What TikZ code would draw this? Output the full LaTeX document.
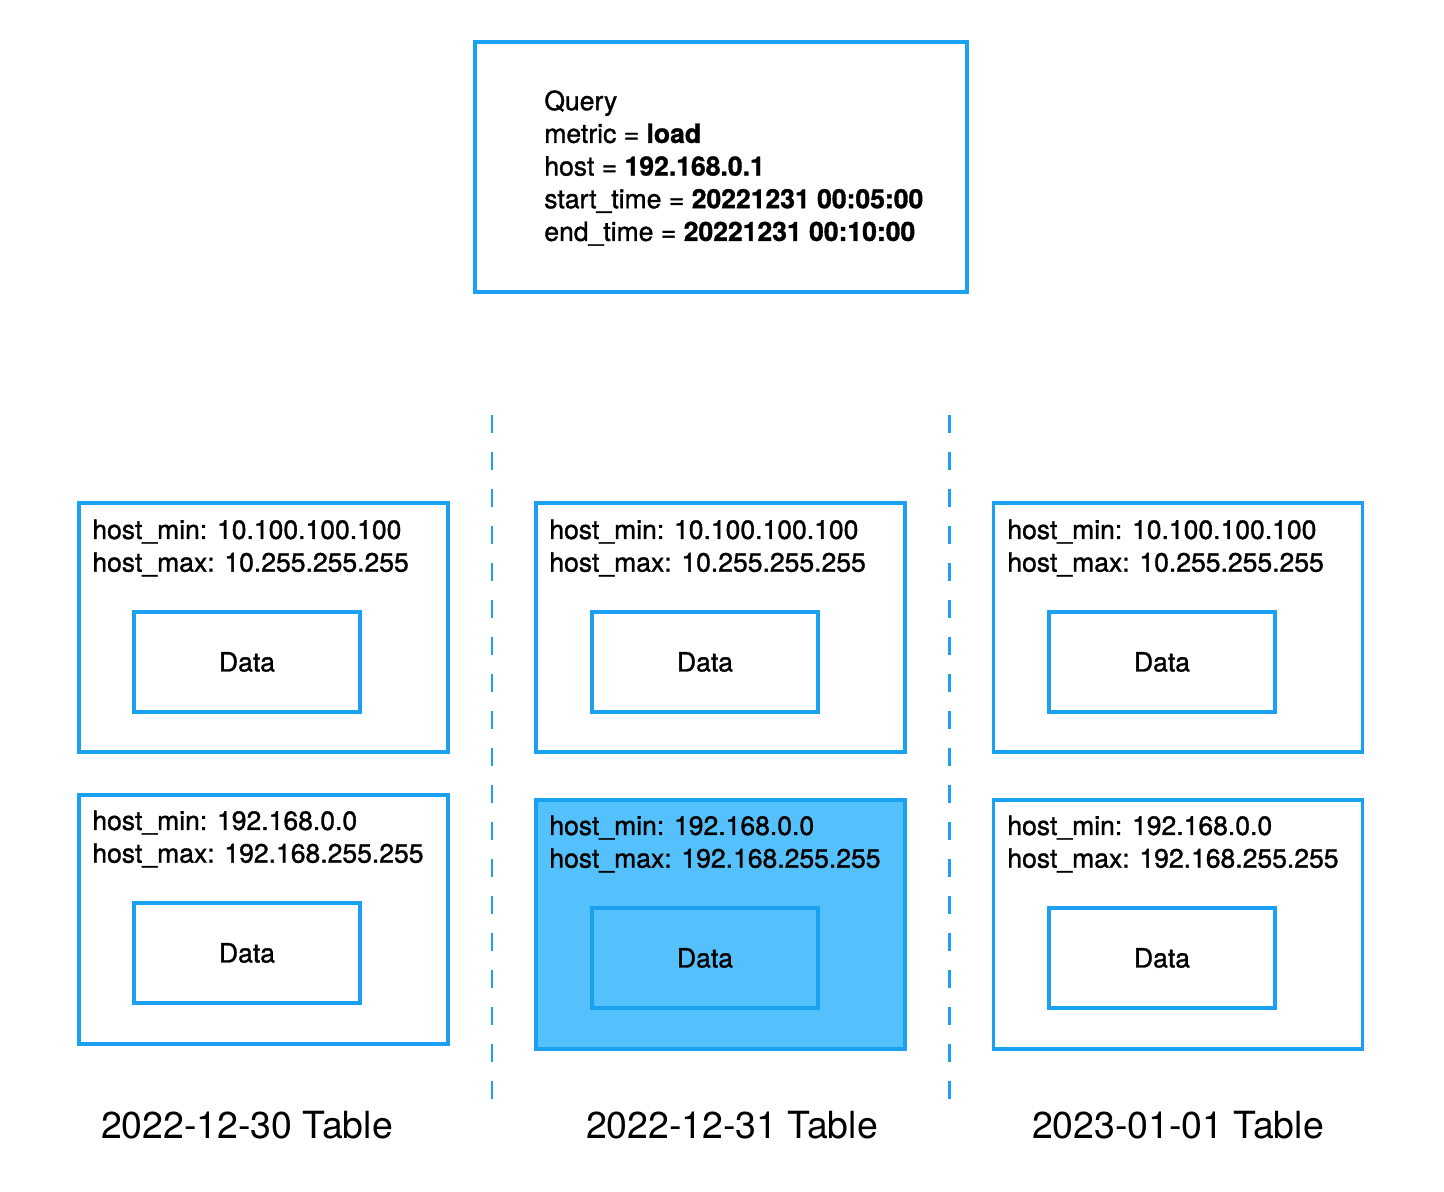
\documentclass[tikz,border=0pt]{standalone}
\usepackage{fontspec}
\setmainfont{TeX Gyre Heros}
\newfontfamily\medfont[FakeBold=1.2]{TeX Gyre Heros}
\definecolor{lineblue}{HTML}{1BA1F2}
\definecolor{fillblue}{HTML}{55C1FC}
\begin{document}
\begin{tikzpicture}[x=0.02cm, y=-0.02cm]
    \tikzstyle{textsize}=[font=\medfont\fontsize{15.1}{18.6}\selectfont]
    \tikzstyle{outerbox}=[draw=lineblue, line width=2.2pt, minimum width=7.38cm, minimum height=4.98cm, inner sep=0pt]
    \tikzstyle{hotbox}=[outerbox, fill=fillblue]
    \tikzstyle{databox}=[draw=lineblue, line width=2.2pt, minimum width=4.52cm, minimum height=2cm, textsize, inner sep=0pt]
    \tikzstyle{rangetext}=[textsize, align=left, anchor=west, inner sep=0pt]
    \tikzstyle{tablelabel}=[font=\fontsize{21.3}{25}\selectfont, inner sep=0pt]
    \tikzstyle{divider}=[draw=lineblue, line width=1.7pt, dash pattern=on 0.36cm off 0.38cm]

    \useasboundingbox (0,0) rectangle (1444,1192);

    % query
    \node[outerbox, minimum width=9.84cm, minimum height=5cm] (query) at (721,167) {};
    \node[rangetext] (querytext) at (544,168) {Query\\
      metric = \textbf{load}\\
      host = \textbf{192.168.0.1}\\
      start\_time = \textbf{20221231 00:05:00}\\
      end\_time = \textbf{20221231 00:10:00}};

    % column dividers
    \coordinate (d1top) at (492,415);
    \coordinate (d1bot) at (492,1105);
    \coordinate (d2top) at (949,415);
    \coordinate (d2bot) at (949,1105);
    \draw[divider] (d1top) -- (d1bot);
    \draw[divider] (d2top) -- (d2bot);

    % 2022-12-30
    \node[outerbox] (a1) at (263.5,627.5) {};
    \node[rangetext] at (92,548) {host\_min: 10.100.100.100\\host\_max: 10.255.255.255};
    \node[databox] (a1data) at (247,662) {Data};
    \node[outerbox] (a2) at (263.5,919.5) {};
    \node[rangetext] at (92,839) {host\_min: 192.168.0.0\\host\_max: 192.168.255.255};
    \node[databox] (a2data) at (247,953) {Data};
    \node[tablelabel] (alabel) at (247,1125) {2022-12-30 Table};

    % 2022-12-31
    \node[outerbox] (b1) at (720.5,627.5) {};
    \node[rangetext] at (549,548) {host\_min: 10.100.100.100\\host\_max: 10.255.255.255};
    \node[databox] (b1data) at (705,662) {Data};
    \node[hotbox] (b2) at (720.5,924.5) {};
    \node[rangetext] at (549,844) {host\_min: 192.168.0.0\\host\_max: 192.168.255.255};
    \node[databox] (b2data) at (705,958) {Data};
    \node[tablelabel] (blabel) at (732,1125) {2022-12-31 Table};

    % 2023-01-01
    \node[outerbox] (c1) at (1178,627.5) {};
    \node[rangetext] at (1007,548) {host\_min: 10.100.100.100\\host\_max: 10.255.255.255};
    \node[databox] (c1data) at (1162,662) {Data};
    \node[outerbox] (c2) at (1178,924.5) {};
    \node[rangetext] at (1007,844) {host\_min: 192.168.0.0\\host\_max: 192.168.255.255};
    \node[databox] (c2data) at (1162,958) {Data};
    \node[tablelabel] (clabel) at (1178,1125) {2023-01-01 Table};
  \end{tikzpicture}
\end{document}
